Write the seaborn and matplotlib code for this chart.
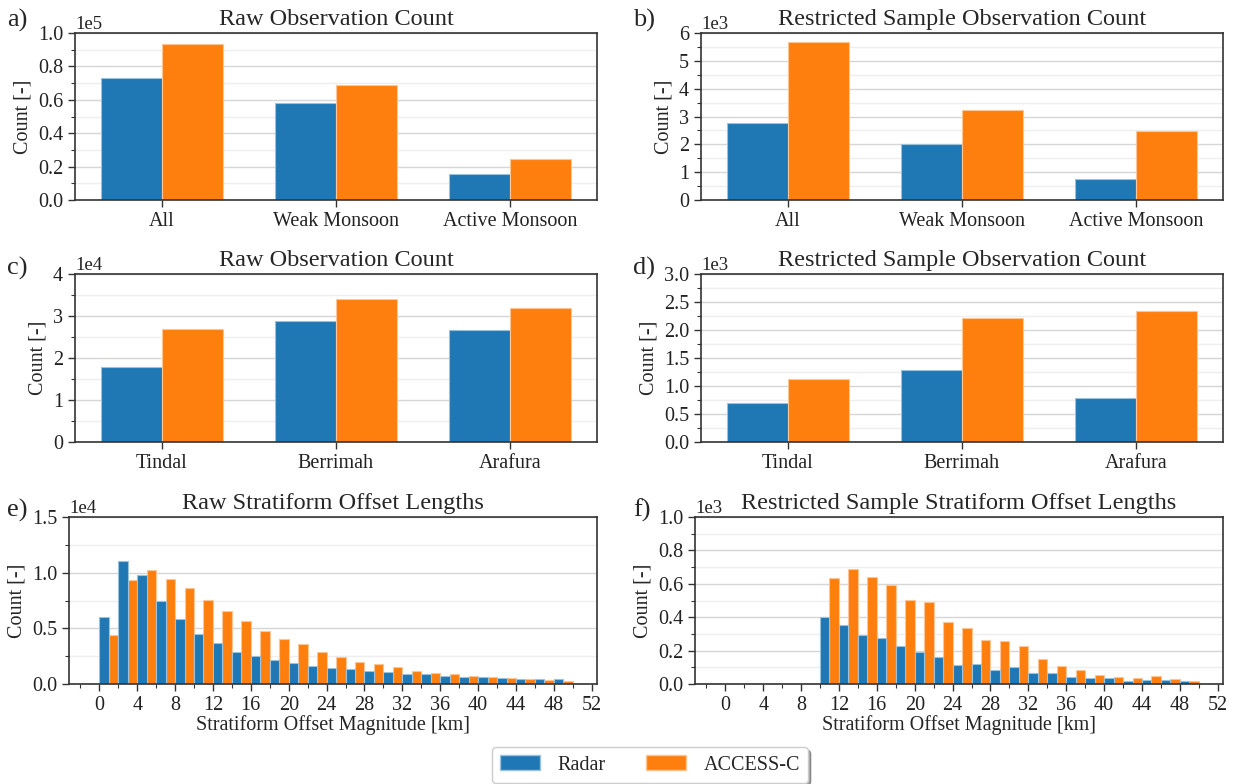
import numpy as np
import pandas as pd
import seaborn as sns
import matplotlib.pyplot as plt
from matplotlib.ticker import MultipleLocator
from matplotlib.patches import Patch
import matplotlib.colors as mcolors

# ---------------------------------------------------------------- data
sources = ["Radar", "ACCESS-C"]
source_colors = ["#1f77b4", "#ff7f0e"]

regimes = ["All", "Weak Monsoon", "Active Monsoon"]
raw_regime_radar = [73300, 58200, 15500]
raw_regime_access = [93200, 68700, 24500]
res_regime_radar = [2780, 2020, 740]
res_regime_access = [5670, 3230, 2470]

sites = ["Tindal", "Berrimah", "Arafura"]
raw_site_radar = [17800, 28700, 26700]
raw_site_access = [27000, 34000, 31900]
res_site_radar = [700, 1290, 790]
res_site_access = [1125, 2210, 2345]

# stratiform offset histograms, 2 km bins from 0 to 50 km
bin_width = 2
bin_range = (0, 50)
raw_offset_radar = [6060, 11070, 9790, 7460, 5880, 4510, 3670, 2900, 2500, 2150,
                    1900, 1640, 1430, 1340, 1130, 1070, 930, 870, 690, 630,
                    630, 510, 480, 420, 450]
raw_offset_access = [4400, 9340, 10240, 9400, 8660, 7550, 6600, 5670, 4720, 4060,
                     3580, 2900, 2420, 2000, 1820, 1520, 1190, 1010, 870, 750,
                     630, 570, 480, 360, 300]
res_offset_radar = [0, 0, 0, 0, 0, 400, 353, 293, 275, 228,
                    194, 160, 114, 120, 86, 102, 68, 64, 42, 34,
                    38, 20, 24, 24, 16]
res_offset_access = [0, 0, 0, 0, 0, 637, 689, 643, 591, 503,
                     493, 371, 337, 265, 255, 228, 148, 110, 82, 56,
                     44, 38, 48, 28, 18]

# ---------------------------------------------------------------- style
sns.set_theme(style="ticks", context="notebook")
plt.rcParams.update({
    "font.family": ["Liberation Serif", "DejaVu Serif"],
    "axes.edgecolor": "#333333",
    "axes.linewidth": 1.2,
    "xtick.color": "#333333",
    "ytick.color": "#333333",
    "xtick.labelcolor": "#222222",
    "ytick.labelcolor": "#222222",
    "xtick.labelsize": 14.5,
    "ytick.labelsize": 14.5,
    "axes.labelsize": 14.5,
    "axes.titlesize": 17.5,
    "xtick.major.size": 5,
    "ytick.major.size": 5,
    "xtick.minor.size": 3,
    "ytick.minor.size": 3,
    "xtick.major.width": 1.0,
    "ytick.major.width": 1.0,
    "xtick.minor.width": 0.8,
    "ytick.minor.width": 0.8,
})

palette = dict(zip(sources, source_colors))

W, H = 1240, 784
fig = plt.figure(figsize=(W / 100, H / 100), dpi=100)


def make_axes(left, right, top, bottom):
    return fig.add_axes([left / W, 1 - bottom / H, (right - left) / W, (bottom - top) / H])


def lighten(c, amt=0.55):
    r, g, b = mcolors.to_rgb(c)
    return (r + (1 - r) * amt, g + (1 - g) * amt, b + (1 - b) * amt)


def style_axis(ax, ymax, major, title, letter, letter_xy):
    ax.set_ylim(0, ymax)
    ax.yaxis.set_major_locator(MultipleLocator(major))
    ax.yaxis.set_minor_locator(MultipleLocator(major / 2))
    ax.ticklabel_format(axis="y", style="sci", scilimits=(0, 0))
    ax.yaxis.get_offset_text().set_fontsize(13.5)
    ax.yaxis.grid(True, which="major", color="#d6d6d6", linewidth=1.0)
    ax.yaxis.grid(True, which="minor", color="#eeeeee", linewidth=1.0)
    ax.set_axisbelow(True)
    ax.set_ylabel("Count [-]")
    ax.set_title(title, y=1.0, pad=6)
    fig.text(letter_xy[0] / W, 1 - letter_xy[1] / H, letter, fontsize=19,
             ha="left", va="center")
    for p in ax.patches:
        p.set_edgecolor(lighten(p.get_facecolor()))
        p.set_linewidth(0.8)


def category_panel(ax, cats, radar, access):
    df = pd.DataFrame({
        "category": cats * 2,
        "count": list(radar) + list(access),
        "source": [sources[0]] * len(cats) + [sources[1]] * len(cats),
    })
    sns.barplot(data=df, x="category", y="count", hue="source", hue_order=sources,
                palette=palette, width=0.7, gap=0, saturation=1, ax=ax, legend=False)
    ax.set_xlabel("")
    ax.set_xlim(-0.5, 2.5)


def offset_panel(ax, radar, access):
    centers = list(np.arange(bin_range[0], bin_range[1], bin_width) + bin_width / 2)
    df = pd.DataFrame({
        "offset": centers * 2,
        "count": list(radar) + list(access),
        "source": [sources[0]] * len(centers) + [sources[1]] * len(centers),
    })
    sns.histplot(data=df, x="offset", weights="count", hue="source", hue_order=sources,
                 palette=palette, binwidth=bin_width, binrange=bin_range,
                 multiple="dodge", shrink=1, alpha=1, ax=ax, legend=False)
    ax.set_xlim(-3.2, 52.55)
    ax.xaxis.set_major_locator(MultipleLocator(4))
    ax.xaxis.set_minor_locator(MultipleLocator(2))
    ax.set_xlabel("Stratiform Offset Magnitude [km]", labelpad=0)


ax_a = make_axes(75, 597, 33, 200)
category_panel(ax_a, regimes, raw_regime_radar, raw_regime_access)
style_axis(ax_a, 1.0e5, 0.2e5, "Raw Observation Count", "a)", (7, 20))

ax_b = make_axes(701, 1223, 33, 200)
category_panel(ax_b, regimes, res_regime_radar, res_regime_access)
style_axis(ax_b, 6000, 1000, "Restricted Sample Observation Count", "b)", (633, 20))

ax_c = make_axes(75, 597, 274, 442)
category_panel(ax_c, sites, raw_site_radar, raw_site_access)
style_axis(ax_c, 4.0e4, 1.0e4, "Raw Observation Count", "c)", (7, 268))

ax_d = make_axes(701, 1223, 274, 442)
category_panel(ax_d, sites, res_site_radar, res_site_access)
style_axis(ax_d, 3000, 500, "Restricted Sample Observation Count", "d)", (633, 268))

ax_e = make_axes(69, 597, 517, 684)
offset_panel(ax_e, raw_offset_radar, raw_offset_access)
style_axis(ax_e, 1.5e4, 0.5e4, "Raw Stratiform Offset Lengths", "e)", (7, 510))

ax_f = make_axes(695, 1223, 517, 684)
offset_panel(ax_f, res_offset_radar, res_offset_access)
style_axis(ax_f, 1000, 200, "Restricted Sample Stratiform Offset Lengths", "f)", (633, 510))

handles = [Patch(facecolor=c, edgecolor=lighten(c), label=s)
           for s, c in zip(sources, source_colors)]
fig.legend(handles=handles, loc="center", bbox_to_anchor=(650 / W, 1 - 765 / H),
           ncol=2, fontsize=14.5, shadow=True, frameon=True, fancybox=True,
           edgecolor="#cccccc", handlelength=2.0, handleheight=0.7,
           columnspacing=2.0, handletextpad=0.85, borderpad=0.4)

fig.savefig("out.png", dpi=100)
